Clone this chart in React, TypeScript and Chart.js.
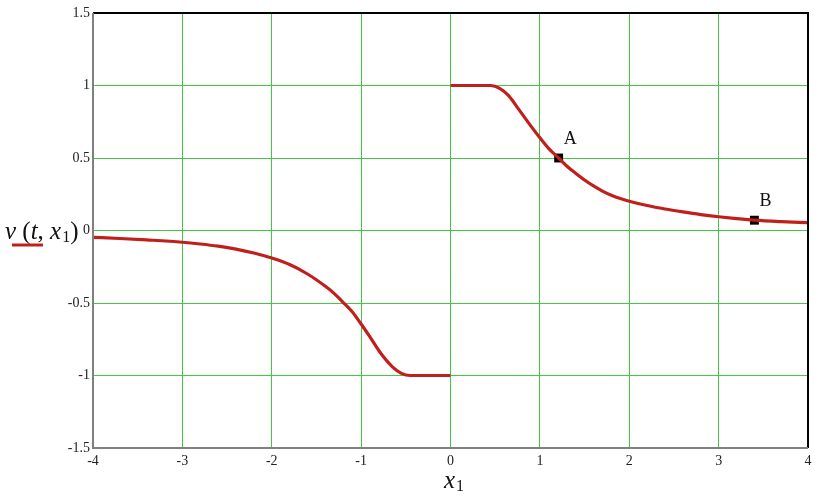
import React, { useEffect, useRef } from "react";
import { Chart, registerables } from "chart.js";

Chart.register(...registerables);

const xRight = [0, 0.3, 0.45, 0.55, 0.65, 0.77, 0.9, 1.0, 1.1, 1.21, 1.3, 1.4, 1.5, 1.6, 1.7, 1.8, 1.9, 2.0, 2.2, 2.4, 2.6, 2.8, 3.0, 3.2, 3.4, 3.7, 4.0];
const vRight = [1, 1, 1, 0.98, 0.93, 0.83, 0.72, 0.64, 0.565, 0.5, 0.445, 0.395, 0.348, 0.307, 0.272, 0.243, 0.22, 0.202, 0.172, 0.148, 0.128, 0.11, 0.095, 0.082, 0.071, 0.061, 0.054];
const xLeft = [-4.0, -3.7, -3.4, -3.0, -2.8, -2.6, -2.4, -2.2, -2.0, -1.8, -1.6, -1.4, -1.3, -1.21, -1.1, -1.0, -0.9, -0.77, -0.65, -0.55, -0.45, -0.3, 0];
const vLeft = [-0.047, -0.055, -0.065, -0.081, -0.093, -0.108, -0.128, -0.155, -0.19, -0.235, -0.3, -0.385, -0.435, -0.49, -0.56, -0.645, -0.735, -0.855, -0.94, -0.985, -1, -1, -1];
const markerNames = ["A", "B"];
const markerX = [1.21, 3.4];
const markerY = [0.5, 0.071];
const xTickValues = [-4, -3, -2, -1, 0, 1, 2, 3, 4];
const yTickValues = [-1.5, -1, -0.5, 0, 0.5, 1, 1.5];

const SERIF = "'Liberation Serif', 'Times New Roman', serif";
const RED = "#c0201c";
const GREEN = "#45c845";

const fmt = (v: number) => {
  const s = String(Math.abs(v));
  return v < 0 ? "-" + s : s;
};

const decorPlugin = {
  id: "decor",
  afterDatasetsDraw(chart: any) {
    const { ctx, chartArea: a, scales } = chart;
    ctx.save();
    // borders
    ctx.lineWidth = 2;
    ctx.strokeStyle = "#000";
    ctx.beginPath();
    ctx.moveTo(a.left, a.top);
    ctx.lineTo(a.right, a.top);
    ctx.lineTo(a.right, a.bottom);
    ctx.stroke();
    ctx.strokeStyle = "#808080";
    ctx.beginPath();
    ctx.moveTo(a.left, a.top);
    ctx.lineTo(a.left, a.bottom);
    ctx.lineTo(a.right, a.bottom);
    ctx.stroke();
    // marker labels
    ctx.fillStyle = "#111";
    ctx.font = `18px ${SERIF}`;
    ctx.textAlign = "left";
    ctx.textBaseline = "alphabetic";
    for (let i = 0; i < markerNames.length; i++) {
      const px = scales.x.getPixelForValue(markerX[i]);
      const py = scales.y.getPixelForValue(markerY[i]);
      ctx.fillText(markerNames[i], px + 5, py - 14);
    }
    // y title: v(t, x1)
    ctx.fillStyle = "#111";
    let x = 5;
    const base = 239;
    const parts: [string, boolean][] = [["v", true], [" (", false], ["t", true], [", ", false], ["x", true]];
    for (const [t, it] of parts) {
      ctx.font = it ? `italic 25px ${SERIF}` : `25px ${SERIF}`;
      ctx.fillText(t, x, base);
      x += ctx.measureText(t).width;
    }
    ctx.font = `16px ${SERIF}`;
    ctx.fillText("1", x + 1, base + 3);
    x += ctx.measureText("1").width + 1;
    ctx.font = `25px ${SERIF}`;
    ctx.fillText(")", x, base);
    // red legend line
    ctx.strokeStyle = RED;
    ctx.lineWidth = 3;
    ctx.beginPath();
    ctx.moveTo(12, 245);
    ctx.lineTo(43, 245);
    ctx.stroke();
    // x title
    ctx.font = `italic 25px ${SERIF}`;
    ctx.fillText("x", 444, 488);
    const w = ctx.measureText("x").width;
    ctx.font = `16px ${SERIF}`;
    ctx.fillText("1", 444 + w + 1, 491);
    ctx.restore();
  },
};

export default function App() {
  const ref = useRef<HTMLCanvasElement | null>(null);
  useEffect(() => {
    if (!ref.current) return;
    const chart = new Chart(ref.current, {
      type: "scatter",
      data: {
        datasets: [
          {
            data: xLeft.map((x, i) => ({ x, y: vLeft[i] })),
            showLine: true,
            borderColor: RED,
            borderWidth: 3.2,
            pointRadius: 0,
            cubicInterpolationMode: "monotone",
          },
          {
            data: xRight.map((x, i) => ({ x, y: vRight[i] })),
            showLine: true,
            borderColor: RED,
            borderWidth: 3.2,
            pointRadius: 0,
            cubicInterpolationMode: "monotone",
          },
          {
            data: markerX.map((x, i) => ({ x, y: markerY[i] })),
            showLine: false,
            pointStyle: "rect",
            pointRadius: 6.3,
            borderWidth: 0,
            backgroundColor: "#000",
            borderColor: "#000",
          },
        ],
      } as any,
      options: {
        responsive: false,
        animation: false,
        layout: { padding: { left: 0, top: 13, right: 22, bottom: 0 } },
        plugins: { legend: { display: false }, tooltip: { enabled: false } },
        scales: {
          x: {
            type: "linear",
            min: -4,
            max: 4,
            afterBuildTicks: (s: any) => {
              s.ticks = xTickValues.map((v) => ({ value: v }));
            },
            afterFit: (s: any) => {
              s.height = 56;
            },
            border: { display: false },
            grid: { color: GREEN, lineWidth: 1, drawTicks: false },
            ticks: {
              padding: 5,
              color: "#222",
              font: { family: SERIF, size: 14 },
              callback: (v: any) => fmt(Number(v)),
            },
          },
          y: {
            type: "linear",
            min: -1.5,
            max: 1.5,
            afterBuildTicks: (s: any) => {
              s.ticks = yTickValues.map((v) => ({ value: v }));
            },
            afterFit: (s: any) => {
              s.width = 93;
            },
            border: { display: false },
            grid: { color: GREEN, lineWidth: 1, drawTicks: false },
            ticks: {
              padding: 3,
              color: "#222",
              font: { family: SERIF, size: 14 },
              callback: (v: any) => fmt(Number(v)),
            },
          },
        },
      },
      plugins: [decorPlugin],
    } as any);
    return () => chart.destroy();
  }, []);
  return (
    <div style={{ position: "absolute", left: 0, top: 0, width: 830, height: 504, background: "#fff" }}>
      <canvas ref={ref} width={830} height={504} style={{ display: "block" }} />
    </div>
  );
}
